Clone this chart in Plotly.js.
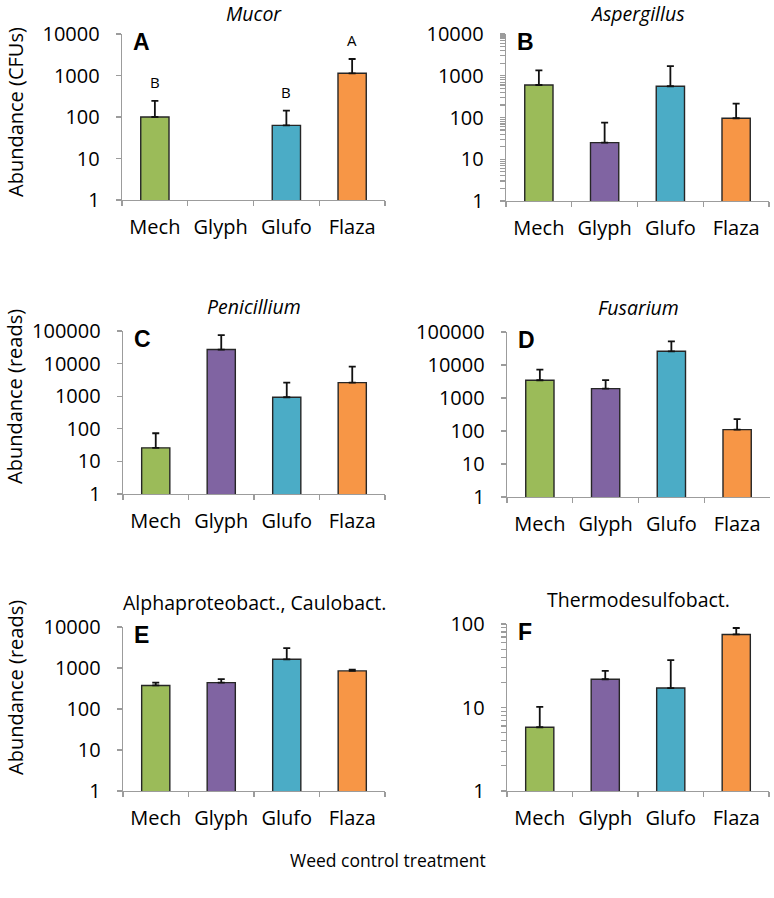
<!DOCTYPE html>
<html>
<head>
<meta charset="utf-8">
<script src="https://cdn.plot.ly/plotly-3.0.1.min.js"></script>
<style>
html,body{margin:0;padding:0;background:#fff;}
#chart{width:774px;height:898px;}
</style>
</head>
<body>
<div id="chart"></div>
<script>
// ---------- data ----------
const categories = ['Mech', 'Glyph', 'Glufo', 'Flaza'];
const barColors = ['#9BBB59', '#8064A2', '#4BACC6', '#F79646'];

const mucorMean = [100, null, 63, 1130];
const mucorErr = [145, null, 79, 1370];
const mucorLetters = ['B', '', 'B', 'A'];

const aspergillusMean = [600, 25, 560, 96];
const aspergillusErr = [750, 50, 1140, 119];

const penicilliumMean = [26, 27000, 930, 2600];
const penicilliumErr = [47, 48000, 1670, 5500];

const fusariumMean = [3450, 1920, 26000, 110];
const fusariumErr = [3750, 1580, 26000, 120];

const alphaMean = [375, 440, 1630, 850];
const alphaErr = [65, 95, 1440, 65];

const thermoMean = [5.8, 21.8, 17.1, 75];
const thermoErr = [4.4, 5.7, 19.8, 14.5];

const panelTitles = ['Mucor', 'Aspergillus', 'Penicillium', 'Fusarium', 'Alphaproteobact., Caulobact.', 'Thermodesulfobact.'];
const titleItalic = [true, true, true, true, false, false];
const panelLetters = ['A', 'B', 'C', 'D', 'E', 'F'];
const yTitles = ['Abundance (CFUs)', 'Abundance (reads)', 'Abundance (reads)'];
const xTitle = 'Weed control treatment';

const ticks4 = [1, 10, 100, 1000, 10000];
const ticks5 = [1, 10, 100, 1000, 10000, 100000];
const ticks2 = [1, 10, 100];
const tickText4 = ['1', '10', '100', '1000', '10000'];
const tickText5 = ['1', '10', '100', '1000', '10000', '100000'];
const tickText2 = ['1', '10', '100'];

// ---------- layout (pixel boxes of each panel) ----------
const W = 774, H = 898;
const boxes = [
  {x0: 122, x1: 385, y0: 34, y1: 200},
  {x0: 506, x1: 769, y0: 34, y1: 201},
  {x0: 123, x1: 385, y0: 331, y1: 494},
  {x0: 507, x1: 770, y0: 332, y1: 497},
  {x0: 123, x1: 385, y0: 627, y1: 791},
  {x0: 507, x1: 769, y0: 624, y1: 791}
];
const panels = [
  {mean: mucorMean, err: mucorErr, tv: ticks4, tt: tickText4, minor: false, letters: mucorLetters},
  {mean: aspergillusMean, err: aspergillusErr, tv: ticks4, tt: tickText4, minor: true},
  {mean: penicilliumMean, err: penicilliumErr, tv: ticks5, tt: tickText5, minor: false},
  {mean: fusariumMean, err: fusariumErr, tv: ticks5, tt: tickText5, minor: false},
  {mean: alphaMean, err: alphaErr, tv: ticks4, tt: tickText4, minor: false},
  {mean: thermoMean, err: thermoErr, tv: ticks2, tt: tickText2, minor: true}
];

const FONT = 'Open Sans, Lato, sans-serif';
const AXIS_COLOR = '#9c9c9c';
const traces = [];
const layout = {
  width: W, height: H,
  margin: {l: 0, r: 0, t: 0, b: 0},
  paper_bgcolor: '#fff', plot_bgcolor: '#fff',
  showlegend: false,
  bargap: 0.57,
  font: {family: FONT, size: 20, color: '#000'},
  annotations: []
};

// unlabeled minor tick positions (2..9 within each decade of the major ticks)
function withMinor(major, labels) {
  const vals = major.slice();
  const text = labels.slice();
  for (let j = 0; j < major.length - 1; j++) {
    for (let m = 2; m <= 9; m++) { vals.push(major[j] * m); text.push(''); }
  }
  return {vals, text};
}

panels.forEach((p, i) => {
  const n = i + 1;
  const xa = n === 1 ? 'x' : 'x' + n;
  const ya = n === 1 ? 'y' : 'y' + n;
  const xKey = n === 1 ? 'xaxis' : 'xaxis' + n;
  const yKey = n === 1 ? 'yaxis' : 'yaxis' + n;
  const b = boxes[i];

  traces.push({
    type: 'bar',
    x: categories,
    y: p.mean,
    xaxis: xa, yaxis: ya,
    marker: {color: barColors, line: {color: '#262626', width: 1.4}},
    error_y: {
      type: 'data', symmetric: false,
      array: p.err, arrayminus: p.err.map(() => 0),
      color: '#111', thickness: 1.8, width: 3.5
    },
    hoverinfo: 'x+y'
  });

  layout[xKey] = {
    domain: [b.x0 / W, b.x1 / W],
    anchor: ya,
    type: 'category',
    range: [-0.5, 3.5],
    showline: true, linecolor: AXIS_COLOR, linewidth: 1.3,
    ticks: 'outside', tickson: 'boundaries', ticklen: 5, tickcolor: AXIS_COLOR, tickwidth: 1.3,
    showgrid: false, zeroline: false,
    tickfont: {family: FONT, size: 20, color: '#000'},
    ticklabelstandoff: 9,
    fixedrange: true
  };
  const ymax = Math.log10(p.tv[p.tv.length - 1]);
  const t = p.minor ? withMinor(p.tv, p.tt) : {vals: p.tv, text: p.tt};
  layout[yKey] = {
    domain: [1 - b.y1 / H, 1 - b.y0 / H],
    anchor: xa,
    type: 'log',
    range: [0, ymax],
    showline: true, linecolor: AXIS_COLOR, linewidth: 1.3,
    ticks: 'outside', ticklen: 5, tickcolor: AXIS_COLOR, tickwidth: 1.2,
    tickmode: 'array', tickvals: t.vals, ticktext: t.text,
    showgrid: false, zeroline: false,
    tickfont: {family: FONT, size: 20, color: '#000'},
    ticklabelstandoff: 12,
    fixedrange: true
  };

  // panel title
  layout.annotations.push({
    xref: xa + ' domain', yref: ya + ' domain',
    x: 0.5, y: 1, yshift: (i < 2 ? 20.5 : 25), xanchor: 'center', yanchor: 'middle',
    text: panelTitles[i], showarrow: false,
    font: {family: FONT, size: 19.5, color: '#000', style: titleItalic[i] ? 'italic' : 'normal'}
  });
  // panel letter
  layout.annotations.push({
    xref: xa + ' domain', yref: ya + ' domain',
    x: 0, y: 1, xshift: 9, yshift: -8, xanchor: 'left', yanchor: 'middle',
    text: '<b>' + panelLetters[i] + '</b>', showarrow: false,
    font: {family: 'Liberation Sans, Arial, sans-serif', size: 23, color: '#000'}
  });
  // significance letters
  if (p.letters) {
    p.letters.forEach((L, k) => {
      if (!L || p.mean[k] == null) return;
      layout.annotations.push({
        xref: xa, yref: ya,
        x: categories[k], y: Math.log10(p.mean[k] + p.err[k]),
        yshift: 7, xanchor: 'center', yanchor: 'bottom',
        text: L, showarrow: false,
        font: {family: FONT, size: 15, color: '#000'}
      });
    });
  }
});

// y-axis titles (one per row)
const yTitlePos = [112, 397, 688];
yTitles.forEach((t, r) => {
  layout.annotations.push({
    xref: 'paper', yref: 'paper',
    x: 15 / W, y: 1 - yTitlePos[r] / H, xanchor: 'center', yanchor: 'middle',
    textangle: -90, text: t, showarrow: false,
    font: {family: FONT, size: 20, color: '#000'}
  });
});
// common x title
layout.annotations.push({
  xref: 'paper', yref: 'paper',
  x: 388 / W, y: 1 - 860 / H, xanchor: 'center', yanchor: 'middle',
  text: xTitle, showarrow: false,
  font: {family: FONT, size: 17.5, color: '#000'}
});

Plotly.newPlot('chart', traces, layout, {displayModeBar: false, staticPlot: true});
</script>
</body>
</html>
